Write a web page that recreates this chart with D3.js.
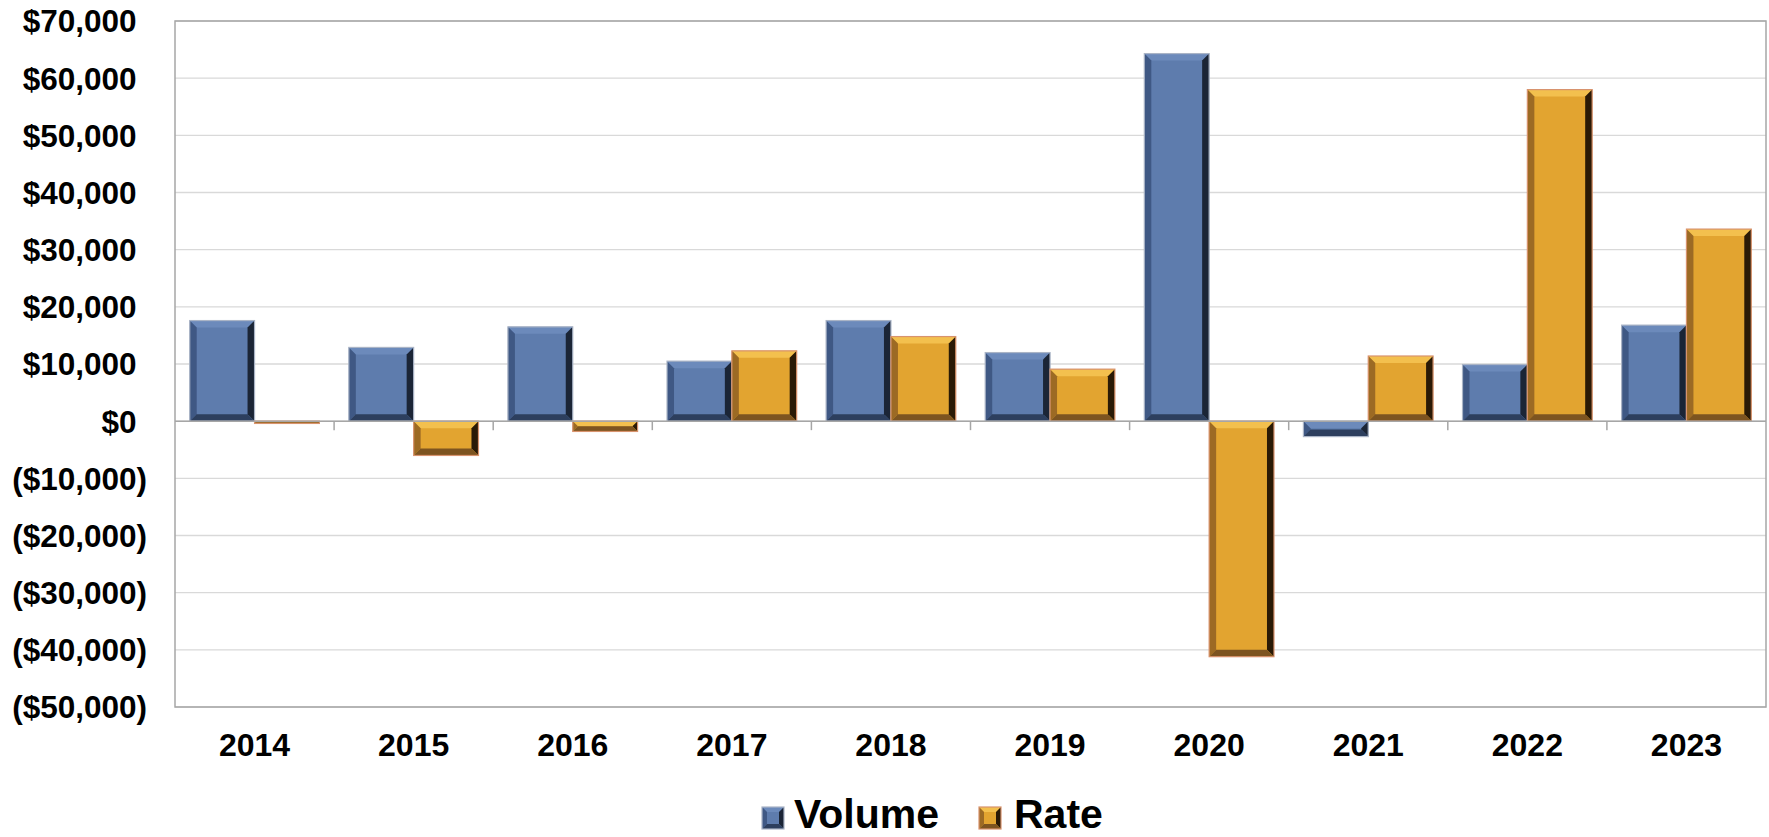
<!DOCTYPE html>
<html>
<head>
<meta charset="utf-8">
<script src="https://cdn.jsdelivr.net/npm/d3@7/dist/d3.min.js"></script>
<style>
  html, body { margin: 0; padding: 0; background: #fff; }
  svg { display: block; font-family: "Liberation Sans", Arial, sans-serif; font-weight: bold; }
</style>
</head>
<body>
<svg id="chart" width="1769" height="837"></svg>
<script>
const years = ["2014","2015","2016","2017","2018","2019","2020","2021","2022","2023"];
const seriesNames = ["Volume","Rate"];
const volume = [17600, 12900, 16500, 10500, 17600, 12000, 64300, -2700, 9900, 16800];
const rate   = [-400, -6000, -1800, 12300, 14800, 9100, -41200, 11400, 58000, 33600];
const yTicks = [70000, 60000, 50000, 40000, 30000, 20000, 10000, 0, -10000, -20000, -30000, -40000, -50000];

const palettes = {
  Volume: { face: "#5e7cad", top: "#6c8abb", left: "#3f5884", right: "#1b2536", bottom: "#2d3f5e", stroke: "#aab4c6" },
  Rate:   { face: "#e2a430", top: "#f3c04e", left: "#9c6a24", right: "#2a1a06", bottom: "#7d5420", stroke: "#d8936e" }
};

const svg = d3.select("#chart");
const plot = { left: 175, top: 21, right: 1766, bottom: 707 };

const y = d3.scaleLinear().domain([-50000, 70000]).range([plot.bottom, plot.top]);
const x0 = d3.scaleBand().domain(years).range([plot.left, plot.right]).padding(0);
const gap = x0.bandwidth() * 0.185;
const x1 = d3.scaleBand().domain(seriesNames).range([gap / 2, x0.bandwidth() - gap / 2]).padding(0);

// gridlines
svg.append("g").selectAll("line").data(yTicks).join("line")
  .attr("x1", plot.left).attr("x2", plot.right)
  .attr("y1", d => y(d)).attr("y2", d => y(d))
  .attr("stroke", "#d9d9d9").attr("stroke-width", 1.3);

// plot border
svg.append("rect").attr("x", plot.left).attr("y", plot.top)
  .attr("width", plot.right - plot.left).attr("height", plot.bottom - plot.top)
  .attr("fill", "none").attr("stroke", "#a6a6a6").attr("stroke-width", 1.5);

// y labels
const fmt = d => {
  const s = "$" + d3.format(",")(Math.abs(d));
  return d < 0 ? "(" + s + ")" : s;
};
svg.append("g").selectAll("text").data(yTicks).join("text")
  .attr("x", 147).attr("y", d => y(d))
  .attr("dy", "0.36em")
  .attr("dx", d => d < 0 ? 0 : -10.5)
  .attr("text-anchor", "end")
  .attr("font-size", 31.5)
  .attr("fill", "#000")
  .text(fmt);

// bevel bar drawing
function bevelBar(g, bx, by, bw, bh, pal, bv) {
  const b = Math.max(1, Math.min(bv, bh / 2, bw / 2));
  const x2 = bx + bw, y2 = by + bh;
  g.append("rect").attr("x", bx).attr("y", by).attr("width", bw).attr("height", bh).attr("fill", pal.face);
  const poly = (pts, fill) => g.append("polygon").attr("points", pts.map(p => p.join(",")).join(" ")).attr("fill", fill);
  poly([[bx, by], [x2, by], [x2 - b, by + b], [bx + b, by + b]], pal.top);
  poly([[bx, by], [bx + b, by + b], [bx + b, y2 - b], [bx, y2]], pal.left);
  poly([[x2, by], [x2, y2], [x2 - b, y2 - b], [x2 - b, by + b]], pal.right);
  poly([[bx, y2], [bx + b, y2 - b], [x2 - b, y2 - b], [x2, y2]], pal.bottom);
  g.append("rect").attr("x", bx).attr("y", by).attr("width", bw).attr("height", bh)
    .attr("fill", "none").attr("stroke", pal.stroke).attr("stroke-width", 1.2);
}

const data = years.map((yr, i) => ({ year: yr, values: [
  { name: "Volume", value: volume[i] },
  { name: "Rate", value: rate[i] }
]}));

const groups = svg.append("g").selectAll("g").data(data).join("g")
  .attr("transform", d => `translate(${x0(d.year)},0)`);
groups.each(function(d) {
  const g = d3.select(this);
  d.values.forEach(v => {
    const top = y(Math.max(0, v.value));
    const h = Math.abs(y(v.value) - y(0));
    bevelBar(g.append("g"), x1(v.name), top, x1.bandwidth(), h, palettes[v.name], 7);
  });
});

// zero axis line with ticks
svg.append("line").attr("x1", plot.left).attr("x2", plot.right)
  .attr("y1", y(0)).attr("y2", y(0)).attr("stroke", "#a6a6a6").attr("stroke-width", 1.5);
svg.append("g").selectAll("line").data(years.slice(1)).join("line")
  .attr("x1", d => x0(d)).attr("x2", d => x0(d))
  .attr("y1", y(0)).attr("y2", y(0) + 9)
  .attr("stroke", "#a6a6a6").attr("stroke-width", 1.5);

// x labels
svg.append("g").selectAll("text").data(years).join("text")
  .attr("x", d => x0(d) + x0.bandwidth() / 2)
  .attr("y", 756)
  .attr("text-anchor", "middle")
  .attr("font-size", 32)
  .attr("fill", "#000")
  .text(d => d);

// legend
const legendItems = [
  { name: "Volume", sx: 762, tx: 794 },
  { name: "Rate", sx: 979, tx: 1014 }
];
const lg = svg.append("g");
legendItems.forEach(it => {
  bevelBar(lg.append("g"), it.sx, 807, 22, 22, palettes[it.name], 5);
  lg.append("text").attr("x", it.tx).attr("y", 828)
    .attr("font-size", 41).attr("fill", "#000").text(it.name);
});
</script>
</body>
</html>
